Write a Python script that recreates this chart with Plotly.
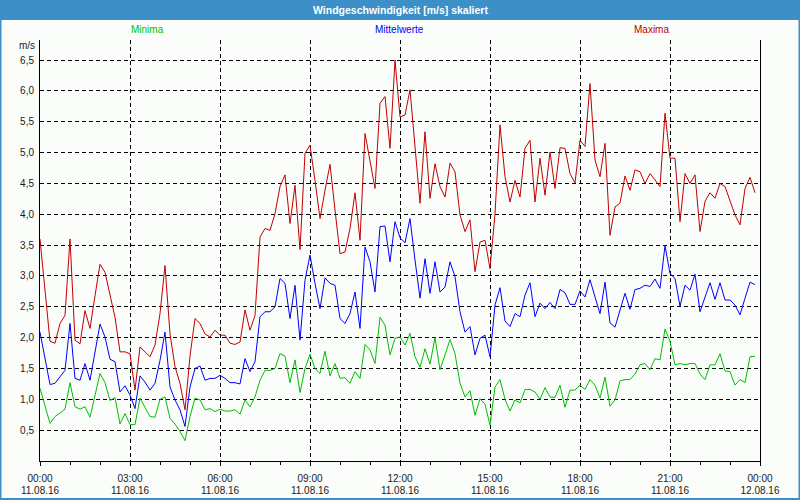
import pandas as pd
import plotly.graph_objects as go

title = "Windgeschwindigkeit [m/s] skaliert"
series_names = ["Minima", "Mittelwerte", "Maxima"]
series_colors = ["#00BE00", "#0000FF", "#C00000"]

start_time = "2016-08-11 00:00"
interval = "10min"

maxima = [3.60, 2.80, 1.94, 1.91, 2.23, 2.36, 3.60, 1.96, 1.90, 2.44, 2.15, 2.68,
          3.19, 3.06, 2.71, 2.33, 1.77, 1.77, 1.74, 1.15, 1.85, 1.77, 1.69, 1.88,
          2.39, 3.17, 2.06, 1.53, 1.26, 0.83, 1.70, 2.31, 2.23, 2.06, 2.01, 2.12,
          2.04, 2.04, 1.91, 1.89, 1.93, 2.45, 2.12, 2.36, 3.63, 3.77, 3.74, 4.01,
          4.45, 4.64, 3.85, 4.47, 3.43, 4.99, 5.12, 4.55, 3.93, 4.39, 4.81, 4.07,
          3.36, 3.39, 3.77, 4.35, 3.58, 5.31, 4.88, 4.42, 5.80, 5.91, 5.07, 6.50,
          5.58, 5.61, 6.02, 5.04, 4.18, 5.34, 4.26, 4.82, 4.45, 4.28, 4.83, 4.69,
          3.99, 3.72, 3.91, 3.07, 3.55, 3.58, 3.12, 4.01, 5.45, 4.61, 4.20, 4.55,
          4.28, 5.07, 5.20, 4.20, 4.91, 4.31, 5.01, 4.42, 5.08, 5.07, 4.66, 4.51,
          5.20, 5.10, 6.12, 4.88, 4.61, 5.15, 3.66, 4.12, 4.18, 4.62, 4.39, 4.72,
          4.69, 4.50, 4.66, 4.56, 4.45, 5.64, 4.91, 4.91, 3.88, 4.66, 4.50, 4.64,
          3.72, 4.21, 4.35, 4.26, 4.50, 4.45, 4.21, 3.99, 3.83, 4.42, 4.60, 4.35]

mittelwerte = [2.09, 1.69, 1.24, 1.26, 1.37, 1.47, 2.23, 1.34, 1.31, 1.58, 1.31, 1.77,
               2.22, 2.01, 1.65, 1.61, 1.12, 1.22, 1.07, 0.85, 1.38, 1.28, 1.15, 1.26,
               1.63, 2.09, 1.20, 0.99, 0.83, 0.56, 1.20, 1.50, 1.54, 1.31, 1.34, 1.34,
               1.39, 1.34, 1.27, 1.27, 1.25, 1.66, 1.45, 1.61, 2.34, 2.42, 2.42, 2.50,
               2.96, 2.88, 2.31, 2.85, 1.96, 2.93, 3.34, 2.88, 2.47, 2.97, 2.88, 2.85,
               2.31, 2.23, 2.39, 2.74, 2.15, 3.47, 3.23, 2.74, 3.80, 3.81, 3.23, 3.88,
               3.62, 3.54, 3.93, 3.26, 2.64, 3.28, 2.72, 3.23, 2.74, 2.82, 3.23, 2.99,
               2.42, 2.09, 2.18, 1.72, 1.99, 2.04, 1.69, 2.53, 2.81, 2.27, 2.18, 2.39,
               2.34, 2.69, 2.89, 2.34, 2.56, 2.47, 2.57, 2.47, 2.78, 2.73, 2.54, 2.54,
               2.76, 2.66, 2.94, 2.66, 2.39, 2.90, 2.24, 2.17, 2.45, 2.72, 2.46, 2.78,
               2.80, 2.85, 2.83, 2.95, 2.80, 3.49, 3.04, 2.96, 2.51, 2.85, 2.77, 3.03,
               2.42, 2.66, 2.89, 2.62, 2.89, 2.61, 2.61, 2.53, 2.37, 2.64, 2.90, 2.86]

minima = [1.18, 0.88, 0.61, 0.72, 0.78, 0.84, 1.27, 0.88, 0.84, 0.88, 0.71, 1.04,
          1.42, 1.27, 0.98, 1.03, 0.60, 0.77, 0.59, 0.59, 1.02, 0.87, 0.72, 0.71,
          1.00, 1.04, 0.69, 0.60, 0.48, 0.33, 0.72, 1.02, 0.99, 0.83, 0.85, 0.80,
          0.84, 0.81, 0.81, 0.83, 0.76, 0.99, 0.88, 1.04, 1.31, 1.47, 1.47, 1.50,
          1.74, 1.70, 1.27, 1.64, 1.11, 1.50, 1.73, 1.50, 1.42, 1.78, 1.38, 1.58,
          1.34, 1.35, 1.26, 1.45, 1.34, 1.89, 1.80, 1.58, 2.33, 2.20, 1.72, 1.99,
          2.01, 1.88, 2.07, 1.69, 1.52, 1.82, 1.57, 2.00, 1.48, 1.72, 1.97, 1.74,
          1.26, 1.04, 1.14, 0.74, 1.01, 0.92, 0.58, 1.20, 1.32, 1.00, 0.81, 0.99,
          0.94, 1.16, 1.16, 1.12, 1.00, 1.19, 1.04, 1.03, 1.23, 0.87, 1.15, 1.15,
          1.23, 1.16, 1.32, 1.23, 1.02, 1.36, 0.89, 0.99, 1.30, 1.32, 1.32, 1.41,
          1.56, 1.58, 1.48, 1.66, 1.64, 2.14, 1.94, 1.56, 1.58, 1.56, 1.58, 1.58,
          1.41, 1.32, 1.56, 1.56, 1.74, 1.46, 1.45, 1.23, 1.32, 1.27, 1.69, 1.70]

x_tick_vals = ["2016-08-11 00:00", "2016-08-11 03:00", "2016-08-11 06:00",
               "2016-08-11 09:00", "2016-08-11 12:00", "2016-08-11 15:00",
               "2016-08-11 18:00", "2016-08-11 21:00", "2016-08-12 00:00"]
x_time_text = ["00:00", "03:00", "06:00", "09:00", "12:00", "15:00", "18:00", "21:00", "00:00"]
x_date_text = ["11.08.16", "11.08.16", "11.08.16", "11.08.16", "11.08.16",
               "11.08.16", "11.08.16", "11.08.16", "12.08.16"]
y_tick_vals = [0.5, 1.0, 1.5, 2.0, 2.5, 3.0, 3.5, 4.0, 4.5, 5.0, 5.5, 6.0, 6.5]
y_tick_text = ["0,5", "1,0", "1,5", "2,0", "2,5", "3,0", "3,5",
               "4,0", "4,5", "5,0", "5,5", "6,0", "6,5"]
y_unit = "m/s"

times = pd.date_range(start_time, periods=len(maxima), freq=interval)
x_range = ["2016-08-11 00:00", "2016-08-12 00:00"]

W, H = 800, 500
L, R, T, B = 40, 40, 40, 39
pw, ph = W - L - R, H - T - B
def px(x):
    return (x - L) / pw
def py(y):
    return (H - B - y) / ph

BLUE = "#3C8FC7"
FONT = "Liberation Sans"
TXT = "#1A1A1A"

fig = go.Figure()
for name, vals, col in zip(series_names, [minima, mittelwerte, maxima], series_colors):
    fig.add_trace(go.Scatter(x=times, y=vals, mode="lines", name=name,
                             line=dict(color=col, width=1), showlegend=False))
fig.add_trace(go.Scatter(x=x_range, y=[None, None], xaxis="x2", yaxis="y",
                         mode="lines", showlegend=False, hoverinfo="skip"))

fig.update_layout(
    template="none",
    width=W, height=H, autosize=False,
    margin=dict(l=L, r=R, t=T, b=B, pad=0),
    paper_bgcolor="#FBFDFB", plot_bgcolor="#FBFDFB",
    font=dict(family=FONT, size=10, color=TXT),
    xaxis=dict(type="date", range=x_range, automargin=False,
               tickmode="array", tickvals=x_tick_vals, ticktext=x_time_text,
               showgrid=True, gridcolor="black", gridwidth=1, griddash="4px,3px",
               showline=True, linecolor="black", linewidth=1, mirror=False,
               ticks="outside", ticklen=4, tickcolor="black", tickwidth=1,
               ticklabelstandoff=4,
               minor=dict(dtick=3600000, ticks="outside", ticklen=3,
                          tickcolor="black", showgrid=False),
               zeroline=False, tickfont=dict(size=10, color=TXT)),
    xaxis2=dict(type="date", range=x_range, overlaying="x", anchor="y", side="bottom",
                automargin=False,
                tickmode="array", tickvals=x_tick_vals, ticktext=x_date_text,
                showgrid=False, showline=False, ticks="", zeroline=False,
                ticklabelstandoff=22, tickfont=dict(size=10, color=TXT)),
    yaxis=dict(range=[0, ph / 61.67], automargin=False, tickmode="array",
               tickvals=y_tick_vals,
               ticktext=y_tick_text, showgrid=True, gridcolor="black", gridwidth=1,
               griddash="4px,3px", showline=True, linecolor="black", linewidth=1,
               mirror=True, ticks="", zeroline=False, tickfont=dict(size=10, color=TXT),
               ticklabelstandoff=3),
)

shapes = [
    dict(type="rect", xref="paper", yref="paper", x0=px(0), x1=px(W), y0=py(20), y1=py(0),
         fillcolor=BLUE, line=dict(width=0), layer="above"),
    dict(type="rect", xref="paper", yref="paper", x0=px(0), x1=px(1.5), y0=py(H), y1=py(0),
         fillcolor=BLUE, line=dict(width=0), layer="above"),
    dict(type="rect", xref="paper", yref="paper", x0=px(W - 1.5), x1=px(W), y0=py(H), y1=py(0),
         fillcolor=BLUE, line=dict(width=0), layer="above"),
    dict(type="rect", xref="paper", yref="paper", x0=px(0), x1=px(W), y0=py(H), y1=py(H - 2),
         fillcolor=BLUE, line=dict(width=0), layer="above"),
]
fig.update_layout(shapes=shapes)

annotations = [
    dict(text="<b>" + title + "</b>", x=px(400), y=py(10), xref="paper", yref="paper",
         showarrow=False, xanchor="center", yanchor="middle",
         font=dict(family=FONT, size=10.5, color="white")),
    dict(text=y_unit, x=px(37), y=py(45), xref="paper", yref="paper", showarrow=False,
         xanchor="right", yanchor="middle", font=dict(family=FONT, size=10, color=TXT)),
]
legend_x = [147, 399, 651]
for name, col, lx in zip(series_names, series_colors, legend_x):
    annotations.append(dict(text=name, x=px(lx), y=py(30), xref="paper", yref="paper",
                            showarrow=False, xanchor="center", yanchor="middle",
                            font=dict(family=FONT, size=10, color=col)))
fig.update_layout(annotations=annotations)

fig.write_html("out.html",
               config={"displayModeBar": False, "staticPlot": True},
               post_script="document.body.style.margin='0';document.body.style.padding='0';"
                           "document.body.style.overflow='hidden';")
